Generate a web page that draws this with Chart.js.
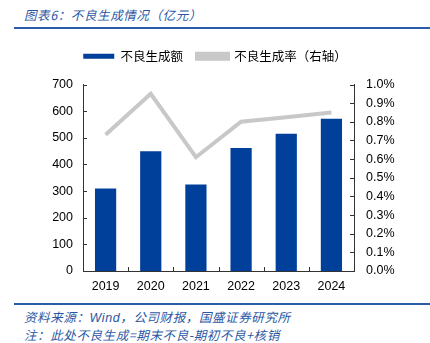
<!DOCTYPE html>
<html>
<head>
<meta charset="utf-8">
<script src="https://cdn.jsdelivr.net/npm/chart.js@4"></script>
<style>
  body { margin: 0; background: #fff; }
  #wrap { position: relative; width: 430px; height: 343px; overflow: hidden; }
  .cap { position: absolute; left: 24px; font-family: "Noto Sans CJK SC", sans-serif; font-style: italic; color: #2a57a3; font-size: 12.5px; letter-spacing: 0.6px; white-space: nowrap; }
  .rule { position: absolute; left: 14px; right: 0; background: #2b5ca8; }
  #box { position: absolute; left: 0; top: 36px; width: 430px; height: 264px; }
</style>
</head>
<body>
<div id="wrap">
  <div class="cap" style="top:5px;">图表6：不良生成情况（亿元）</div>
  <div class="rule" style="top:27px;height:2px;"></div>
  <div id="box"><canvas id="chart__1"></canvas></div>
  <div class="rule" style="top:303px;height:2px;"></div>
  <div class="cap" style="top:307px;">资料来源：<span style="font-family:'Liberation Sans',sans-serif;">Wind</span>，公司财报，国盛证券研究所</div>
  <div class="cap" style="top:325px;">注：此处不良生成=期末不良-期初不良+核销</div>
</div>
<script>
"use strict";
const years = ["2019", "2020", "2021", "2022", "2023", "2024"];
const newNpl = [310, 449, 325, 462, 515, 571];          // 不良生成额（亿元）
const newNplRate = [0.73, 0.95, 0.61, 0.80, 0.825, 0.85]; // 不良生成率（%）

const tickFont = { family: "'Liberation Sans', Arial, sans-serif", size: 12.5 };

// extra room under the legend
const legendGap = {
  id: "legendGap",
  afterInit(chart) {
    const lg = chart.legend;
    const fit = lg.fit;
    lg.fit = function () {
      fit.call(this);
      this.height += 12;
    };
  },
};

// short tick marks pointing into the plot area
const innerTicks = {
  id: "innerTicks",
  afterDraw(chart) {
    const ctx = chart.ctx;
    const area = chart.chartArea;
    const len = 4;
    ctx.save();
    ctx.strokeStyle = "#333";
    ctx.lineWidth = 1;
    ctx.beginPath();
    chart.scales.y.ticks.forEach((t, i) => {
      const py = Math.round(chart.scales.y.getPixelForTick(i)) + 0.5;
      ctx.moveTo(area.left, py);
      ctx.lineTo(area.left + len, py);
    });
    chart.scales.y1.ticks.forEach((t, i) => {
      const py = Math.round(chart.scales.y1.getPixelForTick(i)) + 0.5;
      ctx.moveTo(area.right, py);
      ctx.lineTo(area.right - len, py);
    });
    const x = chart.scales.x;
    for (let i = 0; i < years.length - 1; i++) {
      const px = Math.round((x.getPixelForTick(i) + x.getPixelForTick(i + 1)) / 2) + 0.5;
      ctx.moveTo(px, area.bottom);
      ctx.lineTo(px, area.bottom - len);
    }
    ctx.stroke();
    ctx.restore();
  },
};

const chartSelector__1 = document.getElementById("chart__1").getContext("2d");
const chart__1 = new Chart(chartSelector__1, {
  type: "bar",
  data: {
    labels: years,
    datasets: [
      {
        type: "line",
        label: "不良生成率（右轴）",
        data: newNplRate,
        borderColor: "#c8c8c8",
        backgroundColor: "#c8c8c8",
        borderWidth: 4,
        pointRadius: 0,
        tension: 0,
        yAxisID: "y1",
        order: 0,
      },
      {
        label: "不良生成额",
        data: newNpl,
        backgroundColor: "#00409a",
        categoryPercentage: 1,
        barPercentage: 0.47,
        yAxisID: "y",
        order: 1,
      },
    ],
  },
  options: {
    responsive: true,
    maintainAspectRatio: false,
    animation: false,
    layout: { padding: { top: 0, left: 0, right: 0, bottom: 0 } },
    plugins: {
      tooltip: { enabled: false },
      legend: {
        reverse: true,
        labels: {
          boxWidth: 31,
          boxHeight: 5,
          padding: 14,
          color: "#000",
          font: { family: "'Noto Sans CJK SC', sans-serif", size: 12.5 },
        },
      },
    },
    scales: {
      x: {
        offset: true,
        grid: { display: false, drawTicks: false },
        border: { color: "#333", width: 1 },
        ticks: { color: "#000", font: tickFont, padding: 8 },
        afterFit(s) { s.height = 29; },
      },
      y: {
        position: "left",
        min: 0,
        max: 700,
        grid: { display: false, drawTicks: false },
        border: { color: "#333", width: 1 },
        ticks: { stepSize: 100, color: "#000", font: tickFont, padding: 10 },
        afterFit(s) { s.width = 83; },
      },
      y1: {
        position: "right",
        min: 0,
        max: 1,
        grid: { display: false, drawTicks: false },
        border: { color: "#333", width: 1 },
        ticks: {
          stepSize: 0.1,
          color: "#000",
          font: tickFont,
          padding: 12,
          callback: (v) => v.toFixed(1) + "%",
        },
        afterFit(s) { s.width = 76; },
      },
    },
  },
  plugins: [legendGap, innerTicks],
});
</script>
</body>
</html>
